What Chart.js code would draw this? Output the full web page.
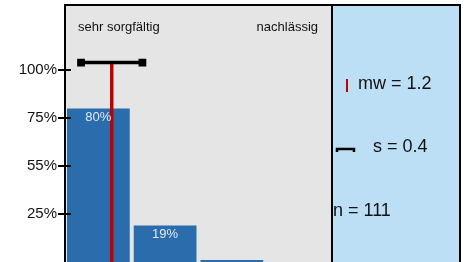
<!DOCTYPE html>
<html>
<head>
<meta charset="utf-8">
<script src="https://cdn.jsdelivr.net/npm/chart.js@4"></script>
<style>
  html, body { margin: 0; padding: 0; background: #ffffff; }
  #c { display: block; }
</style>
</head>
<body>
<canvas id="c" width="467" height="262"></canvas>
<script>
// ---- data ----
const categories = ['sehr sorgfältig', '2', '3', 'nachlässig'];
const percentages = [80, 19, 1, 0];
const percentLabels = ['80%', '19%', '', ''];
const yTickValues = [25, 50, 75, 100];
const yTickLabels = ['25%', '55%', '75%', '100%'];
const meanValue = 1.2;
const sdValue = 0.4;
const sdDrawnHalfWidth = 0.46;
const nValue = 111;
const markerLevel = 104;
const yMax = 134;

const FONT = "'Liberation Sans', Arial, sans-serif";
const BAR = '#2b6cac';
const RED = '#c00000';
const GREY = '#e5e5e5';
const PANEL = '#bddff6';

const decor = {
  id: 'decor',
  beforeDatasetsDraw(chart) {
    const { ctx, chartArea: a } = chart;
    const panelRight = chart.width - 7;
    ctx.save();
    ctx.fillStyle = GREY;
    ctx.fillRect(a.left, a.top, a.right - a.left, a.bottom - a.top);
    ctx.fillStyle = PANEL;
    ctx.fillRect(a.right, a.top, panelRight - a.right, a.bottom - a.top);
    ctx.fillStyle = '#111';
    ctx.font = '13px ' + FONT;
    ctx.textBaseline = 'middle';
    ctx.textAlign = 'left';
    ctx.fillText(categories[0], a.left + 13, a.top + 22);
    ctx.textAlign = 'right';
    ctx.fillText(categories[categories.length - 1], a.right - 14, a.top + 22);
    ctx.restore();
  },
  afterDatasetsDraw(chart) {
    const { ctx, chartArea: a } = chart;
    const panelRight = chart.width - 7;
    ctx.save();
    const meta = chart.getDatasetMeta(0);
    ctx.fillStyle = '#dfe9f4';
    ctx.font = '13px ' + FONT;
    ctx.textAlign = 'center';
    ctx.textBaseline = 'middle';
    meta.data.forEach((el, i) => {
      if (percentLabels[i]) ctx.fillText(percentLabels[i], el.x, el.y + 9);
    });
    const ys = chart.scales.y;
    ctx.strokeStyle = '#000';
    ctx.lineWidth = 2;
    yTickValues.forEach(v => {
      const py = Math.round(ys.getPixelForValue(v));
      ctx.beginPath();
      ctx.moveTo(a.left, py);
      ctx.lineTo(a.left + 6, py);
      ctx.stroke();
    });
    ctx.beginPath();
    ctx.moveTo(a.left, a.bottom + 2);
    ctx.lineTo(a.left, a.top);
    ctx.lineTo(panelRight, a.top);
    ctx.lineTo(panelRight, a.bottom + 2);
    ctx.moveTo(a.right, a.top);
    ctx.lineTo(a.right, a.bottom + 2);
    ctx.stroke();
    const px = a.right;
    ctx.strokeStyle = RED;
    ctx.lineWidth = 2;
    ctx.beginPath();
    ctx.moveTo(px + 15, a.top + 74);
    ctx.lineTo(px + 15, a.top + 87);
    ctx.stroke();
    ctx.strokeStyle = '#000';
    ctx.lineWidth = 2.5;
    ctx.beginPath();
    ctx.moveTo(px + 5, a.top + 147);
    ctx.lineTo(px + 5, a.top + 144);
    ctx.lineTo(px + 22, a.top + 144);
    ctx.lineTo(px + 22, a.top + 147);
    ctx.stroke();
    ctx.fillStyle = '#111';
    ctx.font = '18px ' + FONT;
    ctx.textAlign = 'left';
    ctx.textBaseline = 'middle';
    ctx.fillText('mw = ' + meanValue.toFixed(1), px + 26, a.top + 79);
    ctx.fillText('s = ' + sdValue.toFixed(1), px + 41, a.top + 142);
    ctx.fillText('n = ' + nValue, px + 1, a.top + 206);
    ctx.restore();
  }
};

new Chart(document.getElementById('c'), {
  type: 'bar',
  data: {
    labels: categories,
    datasets: [
      {
        type: 'bar',
        data: percentages,
        backgroundColor: BAR,
        borderWidth: 0,
        barPercentage: 0.94,
        categoryPercentage: 1,
        grouped: false,
        order: 3
      },
      {
        type: 'line',
        xAxisID: 'x2',
        data: [{ x: meanValue, y: 0 }, { x: meanValue, y: markerLevel }],
        borderColor: RED,
        borderWidth: 3.5,
        pointRadius: 0,
        fill: false,
        order: 2
      },
      {
        type: 'line',
        xAxisID: 'x2',
        data: [{ x: meanValue - sdDrawnHalfWidth, y: markerLevel }, { x: meanValue + sdDrawnHalfWidth, y: markerLevel }],
        borderColor: '#000',
        borderWidth: 3.5,
        pointRadius: 3,
        pointStyle: 'rect',
        pointBackgroundColor: '#000',
        pointBorderColor: '#000',
        fill: false,
        order: 1
      }
    ]
  },
  options: {
    responsive: false,
    animation: false,
    layout: { autoPadding: false, padding: { top: 5, right: 135, left: 0, bottom: 0 } },
    plugins: { legend: { display: false }, tooltip: { enabled: false } },
    scales: {
      x: { display: false, offset: true },
      x2: { type: 'linear', display: false, min: 0.5, max: 4.5, offset: false, grid: { offset: false } },
      y: {
        min: 0,
        max: yMax,
        afterBuildTicks: s => { s.ticks = yTickValues.map(v => ({ value: v })); },
        afterFit: s => { s.width = 65; s.paddingTop = 0; s.paddingBottom = 0; },
        ticks: {
          callback: (v, i) => yTickLabels[i],
          color: '#111',
          font: { size: 15, family: FONT },
          padding: 1
        },
        grid: { drawOnChartArea: false, tickLength: 7, color: '#000', lineWidth: 2 },
        border: { display: false }
      }
    }
  },
  plugins: [decor]
});
</script>
</body>
</html>
